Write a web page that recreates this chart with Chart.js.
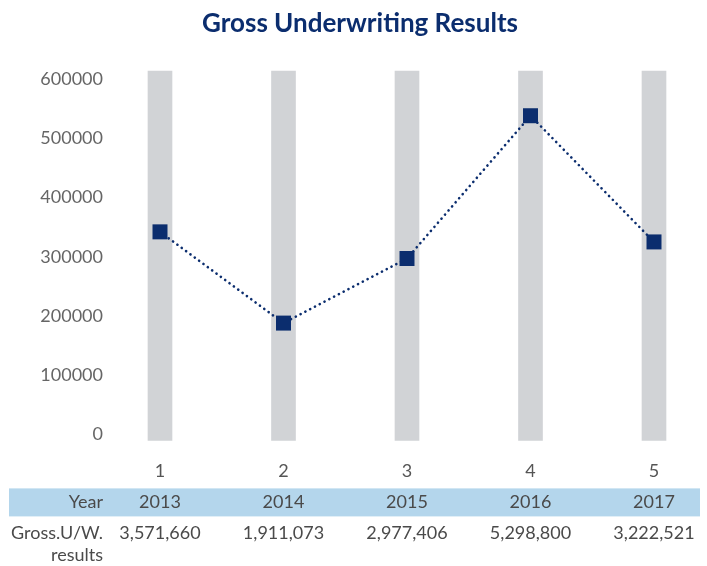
<!DOCTYPE html>
<html lang="en">
<head>
  <meta charset="UTF-8" />
  <title>Gross Underwriting Results</title>
  <script src="https://cdn.jsdelivr.net/npm/chart.js"></script>
  <style>
    html, body { margin: 0; padding: 0; background: #ffffff; }
    .wrap { width: 707px; height: 566px; position: relative; }
  </style>
</head>
<body>
<div class="wrap">
  <canvas id="uwChart" width="707" height="566"></canvas>
</div>

<script>
  // values
  const tickLabels = ['1', '2', '3', '4', '5'];
  const years = ['2013', '2014', '2015', '2016', '2017'];
  const grossResults = [3571660, 1911073, 2977406, 5298800, 3222521];
  const plotted = [342000, 188000, 297000, 538000, 325000];
  const bands = [1, 1, 1, 1, 1];
  const yTicks = [0, 100000, 200000, 300000, 400000, 500000, 600000];

  const navy = '#0b2d6e';
  const font = 'Lato, "Open Sans", sans-serif';
  const titleText = 'Gross Underwriting Results';

  // title centred on the page, not on the plot area
  const titlePlugin = {
    id: 'uwTitle',
    afterDraw(chart) {
      const { ctx } = chart;
      ctx.save();
      ctx.font = 'bold 26px ' + font;
      ctx.fillStyle = navy;
      ctx.textAlign = 'center';
      ctx.textBaseline = 'middle';
      ctx.fillText(titleText, 360, 24);
      ctx.restore();
    }
  };

  // table under the axis (Year / Gross U/W results)
  const tablePlugin = {
    id: 'uwTable',
    afterDraw(chart) {
      const { ctx, scales, chartArea } = chart;
      const x = scales.x;
      const labelRight = scales.y.right - 57;
      const top = chartArea.bottom + 48;

      ctx.save();
      ctx.fillStyle = '#b4d6ec';
      ctx.fillRect(9, top, 691, 28);

      ctx.font = '18px ' + font;
      ctx.fillStyle = '#4a4a4a';
      ctx.textBaseline = 'middle';

      ctx.textAlign = 'right';
      ctx.fillText('Year', labelRight, top + 14);
      ctx.fillText('Gross.U/W.', labelRight, top + 45);
      ctx.fillText('results', labelRight, top + 67);

      ctx.textAlign = 'center';
      years.forEach((yr, i) => {
        const px = x.getPixelForValue(i);
        ctx.fillText(yr, px, top + 14);
        ctx.fillText(grossResults[i].toLocaleString('en-US'), px, top + 45);
      });
      ctx.restore();
    }
  };

  new Chart(document.getElementById('uwChart'), {
    type: 'bar',
    data: {
      labels: tickLabels,
      datasets: [
        {
          type: 'line',
          data: plotted,
          borderColor: navy,
          borderWidth: 2.6,
          borderDash: [0.1, 5.3],
          borderCapStyle: 'round',
          pointStyle: 'rect',
          pointRadius: 10.6,
          pointBackgroundColor: navy,
          pointBorderWidth: 0,
          tension: 0,
          clip: false,
          order: 0
        },
        {
          type: 'bar',
          data: bands,
          yAxisID: 'band',
          backgroundColor: '#d1d3d6',
          barThickness: 24,
          clip: false,
          order: 1
        }
      ]
    },
    options: {
      responsive: false,
      animation: false,
      layout: { padding: { top: 71, right: 53, bottom: 64, left: 0 } },
      plugins: {
        legend: { display: false },
        tooltip: { enabled: false },
        title: { display: false }
      },
      scales: {
        x: {
          offset: false,
          grid: { display: false, drawTicks: false },
          border: { display: false },
          ticks: { color: '#555555', font: { family: font, size: 18 }, padding: 20 }
        },
        y: {
          min: -10000,
          max: 613500,
          grid: { display: false, drawTicks: false },
          border: { display: false },
          afterBuildTicks: scale => { scale.ticks = yTicks.map(v => ({ value: v })); },
          afterFit: scale => { scale.width = 160; },
          ticks: {
            color: '#666666',
            font: { family: font, size: 18 },
            padding: 57,
            callback: v => String(v)
          }
        },
        band: {
          display: false,
          min: 0,
          max: 1
        }
      }
    },
    plugins: [titlePlugin, tablePlugin]
  });
</script>
</body>
</html>
